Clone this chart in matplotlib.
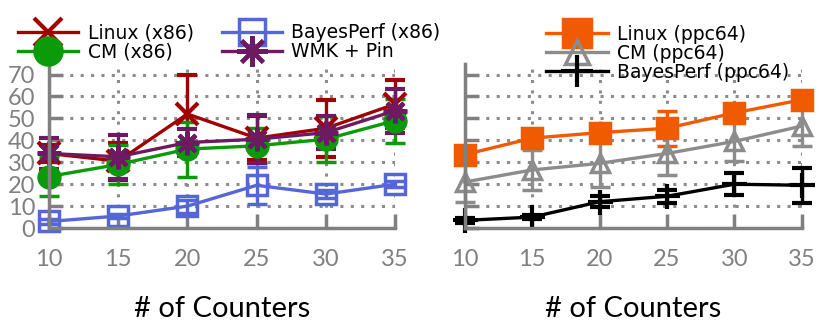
import matplotlib
matplotlib.use("Agg")
import matplotlib.pyplot as plt

# === Data ===
counters = [10, 15, 20, 25, 30, 35]

# x86 panel
linux_x86 = [34, 30.5, 52, 41, 45.5, 56.5]
linux_x86_err = [4, 8.5, 18, 10, 13, 11]
cm_x86 = [23.5, 29, 36, 37.5, 40.5, 49]
cm_x86_err = [9, 9, 12.5, 8, 10.5, 10]
bayes_x86 = [3, 5.5, 10, 19.5, 15.5, 20]
bayes_x86_err = [1, 1, 3, 8.5, 2, 1.5]
wmk_pin = [34, 32.5, 39, 40.5, 43.5, 53.5]
wmk_pin_err = [7, 10, 6, 11, 7.5, 10]

# ppc64 panel
linux_ppc = [33.5, 41, 43.5, 45.5, 52.5, 58.5]
linux_ppc_err = [2, 2, 2, 8, 2, 2]
cm_ppc = [21, 26.5, 29.5, 34, 39.5, 46.5]
cm_ppc_err = [9, 9, 11, 10, 9, 9]
bayes_ppc = [3.5, 5, 12, 14.5, 20, 19.5]
bayes_ppc_err = [1, 1, 2.5, 3, 5, 8]

yticks = [0, 10, 20, 30, 40, 50, 60, 70]

# === Styling ===
plt.rcParams['font.family'] = ['Lato', 'DejaVu Sans']
GRID = '#8c8c8c'
TICK = '#808080'
LEG_FONT = {'family': 'DejaVu Sans', 'size': 13.5}

fig = plt.figure(figsize=(8.3, 3.31), dpi=100)
ax1 = fig.add_axes([0.059, 0.311, 0.417, 0.497])
ax2 = fig.add_axes([0.560, 0.311, 0.406, 0.497])


def draw(ax, y, err, label, color, marker, ms, mfc=None, mew=2.5):
    c = ax.errorbar(counters, y, yerr=err, color=color,
                    marker=marker, markersize=ms, markerfacecolor=mfc or color,
                    markeredgecolor=color, markeredgewidth=mew, linewidth=2.4,
                    elinewidth=2.4, capsize=7, capthick=2.4, clip_on=False)
    return c[0], label


h1 = [
    draw(ax1, linux_x86, linux_x86_err, 'Linux (x86)', '#a00000', 'x', 16, mew=3),
    draw(ax1, cm_x86, cm_x86_err, 'CM (x86)', '#0a9a0a', 'o', 15),
    draw(ax1, bayes_x86, bayes_x86_err, 'BayesPerf (x86)', '#5566d8', 's', 14, mfc='none'),
    draw(ax1, wmk_pin, wmk_pin_err, 'WMK + Pin', '#6e1a62', (8, 2, 0), 17, mew=3),
]
h2 = [
    draw(ax2, linux_ppc, linux_ppc_err, 'Linux (ppc64)', '#f05a00', 's', 15),
    draw(ax2, cm_ppc, cm_ppc_err, 'CM (ppc64)', '#8c8c8c', '^', 13, mfc='none'),
    draw(ax2, bayes_ppc, bayes_ppc_err, 'BayesPerf (ppc64)', 'black', '+', 18, mew=3),
]

for ax in (ax1, ax2):
    ax.set_xlim(10, 35)
    ax.set_ylim(0, 75)
    ax.set_xticks(counters)
    ax.set_yticks(yticks)
    ax.grid(True, color=GRID, linestyle=(0, (1, 2.4)), linewidth=2.2)
    ax.set_axisbelow(True)
    for s in ('top', 'right'):
        ax.spines[s].set_visible(False)
    for s in ('left', 'bottom'):
        ax.spines[s].set_color(TICK)
        ax.spines[s].set_linewidth(2.5)
    ax.tick_params(axis='both', direction='in', length=10, width=2.5,
                   color=TICK, labelcolor=TICK, labelsize=17)
    ax.tick_params(axis='x', pad=15)
    ax.tick_params(axis='y', pad=10)
    ax.set_xlabel('# of Counters', fontsize=21, labelpad=19)

ax2.tick_params(axis='y', labelleft=False)

ax1.legend([h for h, _ in h1], [l for _, l in h1], ncol=2,
           loc='upper left', bbox_to_anchor=(0.022, 0.93),
           bbox_transform=fig.transFigure, frameon=False, prop=LEG_FONT,
           borderpad=0, borderaxespad=0, handlelength=3.2, handletextpad=0.5,
           columnspacing=1.5, labelspacing=0.0, markerscale=1.3)
ax2.legend([h for h, _ in h2], [l for _, l in h2], loc='upper left',
           bbox_to_anchor=(0.658, 0.925),
           bbox_transform=fig.transFigure, frameon=False, prop=LEG_FONT,
           borderpad=0, borderaxespad=0, handlelength=3.3, handletextpad=0.5,
           labelspacing=0.0, markerscale=1.3)

fig.savefig('out.png', dpi=100)
